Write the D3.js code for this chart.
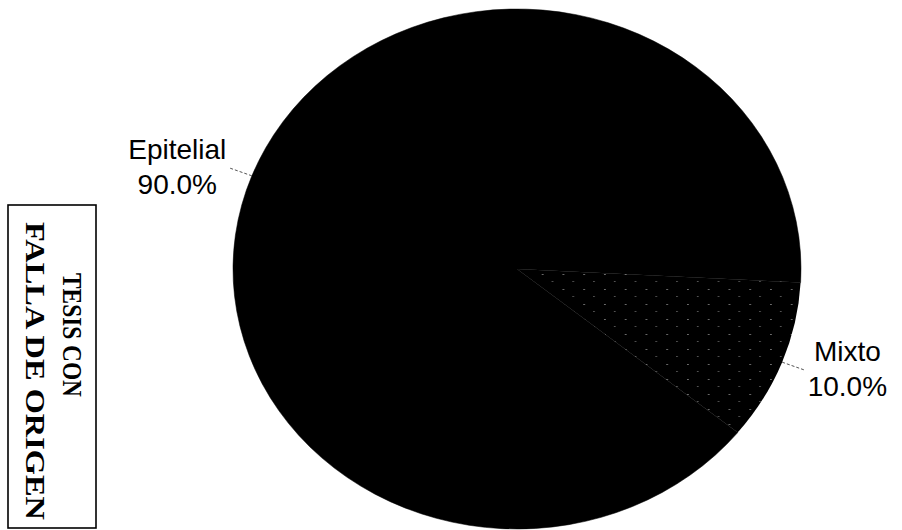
<!DOCTYPE html>
<html><head><meta charset="utf-8">
<script src="https://cdn.jsdelivr.net/npm/d3@7"></script>
<style>html,body{margin:0;padding:0;background:#fff}</style></head>
<body>
<svg id="chart" width="902" height="530"></svg>
<script>
const categories = ["Epitelial", "Mixto"];
const values = [90.0, 10.0];
const valueLabels = ["90.0%", "10.0%"];
const stampLines = ["TESIS CON", "FALLA DE ORIGEN"];

const W = 902, H = 530;
const cx = 517, cy = 269, rx = 284, ry = 260;
const startDeg = 129;

const svg = d3.select("#chart");
const defs = svg.append("defs");
const pat = defs.append("pattern").attr("id", "speck")
  .attr("patternUnits", "userSpaceOnUse").attr("width", 19).attr("height", 15);
pat.append("rect").attr("width", 19).attr("height", 15).attr("fill", "#000");
pat.append("rect").attr("x", 4).attr("y", 5).attr("width", 1).attr("height", 1).attr("fill", "#bbb");
pat.append("rect").attr("x", 13).attr("y", 12).attr("width", 1).attr("height", 1).attr("fill", "#888");

const pie = d3.pie().sort(null).value(d => d)
  .startAngle(startDeg * Math.PI / 180)
  .endAngle((startDeg + 360) * Math.PI / 180);
const arcs = pie(values);
const arc = d3.arc().innerRadius(0).outerRadius(ry);

const g = svg.append("g").attr("transform", `translate(${cx},${cy}) scale(${rx / ry},1)`);
g.selectAll("path").data(arcs).join("path")
  .attr("d", arc)
  .attr("fill", (d, i) => i === 1 ? "url(#speck)" : "#000")
  .attr("stroke", (d, i) => i === 1 ? "none" : "#000").attr("stroke-width", 0.5);

// leader lines and labels
const fontFam = "'Liberation Sans', Arial, sans-serif";
arcs.forEach((d, i) => {
  const a = (d.startAngle + d.endAngle) / 2;
  const sx = Math.sin(a), sy = -Math.cos(a);
  const p0 = [cx + rx * sx, cy + ry * sy];
  const p1 = [cx + rx * 1.085 * sx, cy + ry * 1.085 * sy];
  svg.append("line")
    .attr("x1", p0[0]).attr("y1", p0[1]).attr("x2", p1[0]).attr("y2", p1[1])
    .attr("stroke", "#555").attr("stroke-width", 1).attr("stroke-dasharray", "3,2");
  const side = sx < 0 ? -1 : 1;
  const t = svg.append("text").attr("font-family", fontFam).attr("font-size", 28).attr("fill", "#000")
    .attr("text-anchor", "middle");
  const l1 = t.append("tspan").text(categories[i]);
  const l2 = t.append("tspan").text(valueLabels[i]);
  const wmax = Math.max(l1.node().getComputedTextLength(), l2.node().getComputedTextLength());
  const xc = p1[0] + side * (wmax / 2 + 3);
  l1.attr("x", xc).attr("y", p1[1] - 9);
  l2.attr("x", xc).attr("y", p1[1] + 26);
});

// stamp box
svg.append("rect").attr("x", 8).attr("y", 205).attr("width", 88).attr("height", 323)
  .attr("fill", "none").attr("stroke", "#000").attr("stroke-width", 1.6);
const stampPos = [[72, 335, 124], [35, 371, 298]];
stampLines.forEach((s, i) => {
  svg.append("text")
    .attr("transform", `translate(${stampPos[i][0]},${stampPos[i][1]}) rotate(90)`)
    .attr("text-anchor", "middle").attr("dominant-baseline", "central")
    .attr("font-family", "'Liberation Serif', 'DejaVu Serif', serif")
    .attr("font-size", 28).attr("font-weight", "bold").attr("fill", "#000")
    .attr("textLength", stampPos[i][2]).attr("lengthAdjust", "spacingAndGlyphs")
    .text(s);
});
</script>
</body></html>
